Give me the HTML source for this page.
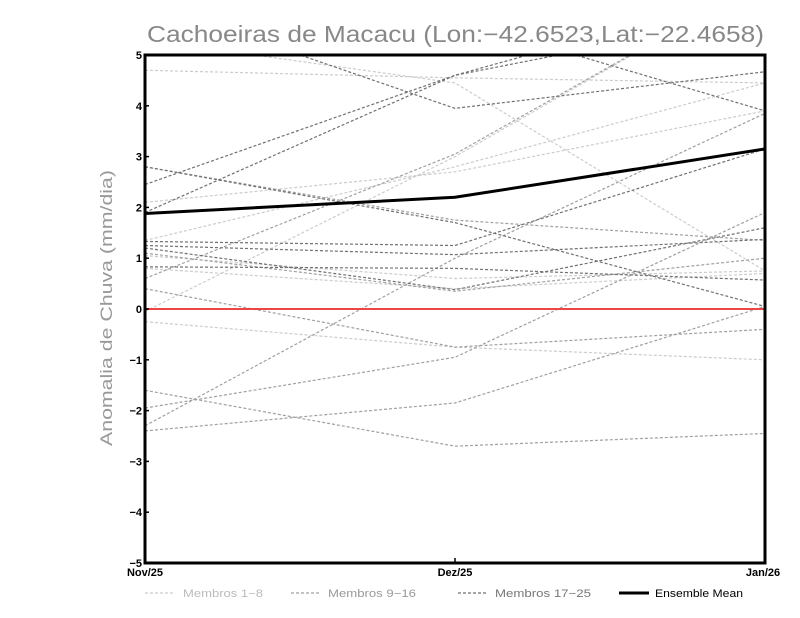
<!DOCTYPE html>
<html><head><meta charset="utf-8"><style>
body{margin:0;background:#fff;}
svg{display:block;font-family:"Liberation Sans",sans-serif;}
</style></head><body>
<svg id="chart" width="800" height="618">
<defs><clipPath id="clip"><rect x="145" y="55" width="620" height="508"/></clipPath></defs>
<text x="147" y="42" textLength="617" lengthAdjust="spacingAndGlyphs" font-size="23" fill="#888" font-weight="300">Cachoeiras de Macacu (Lon:−42.6523,Lat:−22.4658)</text>
<text transform="translate(112,308) rotate(-90)" text-anchor="middle" textLength="276" lengthAdjust="spacingAndGlyphs" font-size="17" fill="#999">Anomalia de Chuva (mm/dia)</text>
<g id="lines" clip-path="url(#clip)"></g>
<g id="axes"></g>
<g id="legend"></g>
</svg>
<script>
const categories=["Nov/25","Dez/25","Jan/26"];
const yTicks=[-5,-4,-3,-2,-1,0,1,2,3,4,5];
const membros1=[[4.7,4.55,4.45],[2.1,2.7,3.9],[1.35,2.8,4.45],[-0.05,3.0,6.5],[1.05,0.6,0.75],[0.8,0.4,0.7],[-0.25,-0.75,-1.0],[5.3,4.45,0.75]];
const membros2=[[0.6,3.05,6.5],[-2.3,1.0,3.85],[-1.95,-0.95,1.9],[-2.4,-1.85,0.05],[-1.6,-2.7,-2.45],[0.4,-0.75,-0.4],[2.8,1.75,1.35],[1.1,0.35,1.0]];
const membros3=[[2.45,4.6,6.3],[1.9,4.6,5.8],[6.05,3.95,4.67],[6.5,5.7,3.9],[1.33,1.25,3.15],[1.25,1.07,1.37],[0.83,0.8,0.57],[1.2,0.38,1.6],[2.8,1.7,0.05]];
const ensembleMean=[1.88,2.2,3.15];
const X0=145,X1=765,Y0=563,Y1=55;
const xs=i=>X0+(X1-X0)*i/(categories.length-1);
const ys=v=>Y0-(v+5)/10*(Y0-Y1);
const NS="http://www.w3.org/2000/svg";
function mk(t,a,p){const e=document.createElementNS(NS,t);for(const k in a)e.setAttribute(k,a[k]);p.appendChild(e);return e;}
const L=document.getElementById('lines'),A=document.getElementById('axes'),G=document.getElementById('legend');
function pts(s){return s.map((v,i)=>xs(i)+','+ys(v)).join(' ');}
[[membros1,'#cccccc'],[membros2,'#a0a0a0'],[membros3,'#707070']].forEach(([grp,c],gi)=>{
 grp.forEach((s,j)=>{const p=mk('polyline',{points:pts(s),fill:'none',stroke:c,'stroke-width':1.2,'stroke-dasharray':'3,2'},L);
 
 });
});
const z=mk('line',{x1:X0,x2:X1,y1:ys(0),y2:ys(0),stroke:'#f04545','stroke-width':2},L);


const em=mk('polyline',{points:pts(ensembleMean),fill:'none',stroke:'#000','stroke-width':3},L);


const fr=mk('rect',{x:X0,y:Y1,width:X1-X0,height:Y0-Y1,fill:'none',stroke:'#000','stroke-width':3},A);


yTicks.forEach(v=>{const y=ys(v);
 mk('line',{x1:X0,x2:X0+4,y1:y,y2:y,stroke:'#000','stroke-width':1.5},A);
 const t=mk('text',{x:X0-3,y:y+4,'text-anchor':'end','font-size':11,'font-weight':'bold'},A);t.textContent=v<0?'−'+(-v):v;
 
 });
categories.forEach((c,i)=>{const x=xs(i);
 mk('line',{x1:x,x2:x,y1:Y0,y2:Y0-5,stroke:'#000','stroke-width':1.5},A);
 const t=mk('text',{x:i==2?x-2:x,y:Y0+13,'text-anchor':'middle','font-size':11,'font-weight':'bold'},A);t.textContent=c;
 
 });
const legendItems=[['Membros 1−8','#cccccc',1.2,'3,2','#bbb'],['Membros 9−16','#a0a0a0',1.2,'3,2','#999'],['Membros 17−25','#707070',1.2,'3,2','#777'],['Ensemble Mean','#000',3,'','#000']];
const lx=[145,291,458,619],lt=[183,328,495,655],lw=[80,88,96,88];
legendItems.forEach((d,i)=>{
 const x=lx[i];
 const g=mk('g',{},G);
 
 
 mk('line',{x1:x,x2:x+30,y1:593,y2:593,stroke:d[1],'stroke-width':d[2],'stroke-dasharray':d[3]},g);
 const t=mk('text',{x:lt[i],y:597,'font-size':11,fill:d[4],textLength:lw[i],lengthAdjust:'spacingAndGlyphs'},g);t.textContent=d[0];
});
</script>
</body></html>
